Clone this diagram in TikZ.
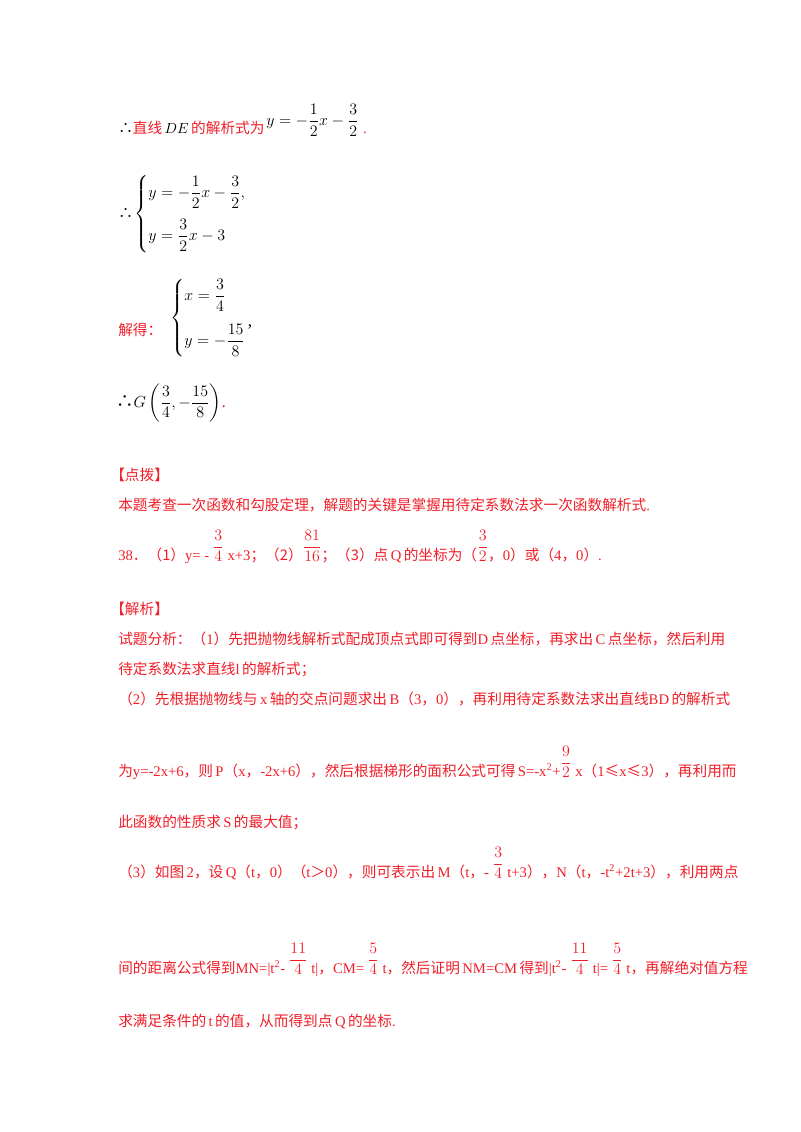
\documentclass[tikz,border=0pt]{standalone}
\usepackage{fontspec}
\usepackage{amsmath}
\setmainfont{Liberation Serif}
\newfontfamily\cjk{Noto Sans CJK SC}
\newcommand\zh[1]{{\cjk #1}}
\newcommand\rf[2]{\raisebox{0.62em}{\fontsize{13}{15}\selectfont$\displaystyle\frac{#1}{#2}$}}
\definecolor{tred}{RGB}{240,30,40}
\begin{document}
\begin{tikzpicture}[x=0.75pt,y=-0.75pt,
  t/.style={anchor=base west,inner sep=0pt,font=\fontsize{11}{13}\selectfont},
  m/.style={anchor=west,inner sep=0pt,font=\fontsize{13}{15}\selectfont},
  r/.style={t,text=tred}]
\useasboundingbox (0,0) rectangle (800,1132);
% line 1
\node[t] (l1) at (118,133) {\zh{∴}\textcolor{tred}{\zh{直线}}$\,DE\,$\textcolor{tred}{\zh{的解析式为}}};
\node[m] (e1) at ([xshift=1pt]l1.east |- 0,120) {$y=-\dfrac{1}{2}x-\dfrac{3}{2}$};
\node[r] (p1) at ([xshift=3pt]e1.east |- l1.base) {.};
% system 1
\node[t] (th2) at (118,218) {\zh{∴}};
\node[m] (s1) at (134,214) {$\left\{\begin{aligned}&y=-\dfrac{1}{2}x-\dfrac{3}{2},\\[4pt]&y=\dfrac{3}{2}x-3\end{aligned}\right.$};
% solve
\node[r] (jd) at (118,335) {\zh{解得：}};
\node[m] (s2) at (170,318) {$\left\{\begin{aligned}&x=\dfrac{3}{4}\\[6pt]&y=-\dfrac{15}{8}\rlap{\raisebox{1.1em}{$\,$,}}\end{aligned}\right.$};
% G
\node[m] (g) at (116,403) {\zh{∴}$G\left(\dfrac{3}{4},-\dfrac{15}{8}\right)$\textcolor{tred}{.}};
% dianbo
\node[r] (db) at (110,480) {\zh{【点拨】}};
\node[r] (db2) at (118,510) {\zh{本题考查一次函数和勾股定理，解题的关键是掌握用待定系数法求一次函数解析式}.};
\node[r] (a38) at (118,560) {38\zh{．（1）}y= - \rf{3}{4} x+3\zh{；（2）}\rf{81}{16}\zh{；（3）点}\,Q\,\zh{的坐标为（}\rf{3}{2}\zh{，}0\zh{）或（}4\zh{，}0\zh{）}.};
\node[r] (jx) at (110,614) {\zh{【解析】}};
\node[r] (s3) at (118,644) {\zh{试题分析：（}1\zh{）先把抛物线解析式配成顶点式即可得到}D\,\zh{点坐标，再求出}\,C\,\zh{点坐标，然后利用}};
\node[r] (s4) at (118,674) {\zh{待定系数法求直线}l\,\zh{的解析式；}};
\node[r] (s5) at (118,704) {\zh{（}2\zh{）先根据抛物线与}\,x\,\zh{轴的交点问题求出}\,B\zh{（}3\zh{，}0\zh{），再利用待定系数法求出直线}BD\,\zh{的解析式}};
\node[r] (s6) at (118,776) {\zh{为}y=-2x+6\zh{，则}\,P\zh{（}x\zh{，}-2x+6\zh{），然后根据梯形的面积公式可得}\,S=-x\textsuperscript{2}+\rf{9}{2} x\zh{（}1\zh{≤}x\zh{≤}3\zh{），再利用而}};
\node[r] (s7) at (118,827) {\zh{此函数的性质求}\,S\,\zh{的最大值；}};
\node[r] (s8) at (118,877) {\zh{（}3\zh{）如图}\,2\zh{，设}\,Q\zh{（}t\zh{，}0\zh{）（}t\zh{＞}0\zh{），则可表示出}\,M\zh{（}t\zh{，}- \rf{3}{4} t+3\zh{），}N\zh{（}t\zh{，}-t\textsuperscript{2}+2t+3\zh{），利用两点}};
\node[r] (s9) at (118,973) {\zh{间的距离公式得到}MN=|t\textsuperscript{2}- \rf{11}{4} t|\zh{，}CM= \rf{5}{4} t\zh{，然后证明}\,NM=CM\,\zh{得到}|t\textsuperscript{2}- \rf{11}{4} t|= \rf{5}{4} t\zh{，再解绝对值方程}};
\node[r] (s10) at (118,1026) {\zh{求满足条件的}\,t\,\zh{的值，从而得到点}\,Q\,\zh{的坐标}.};
\end{tikzpicture}
\end{document}
